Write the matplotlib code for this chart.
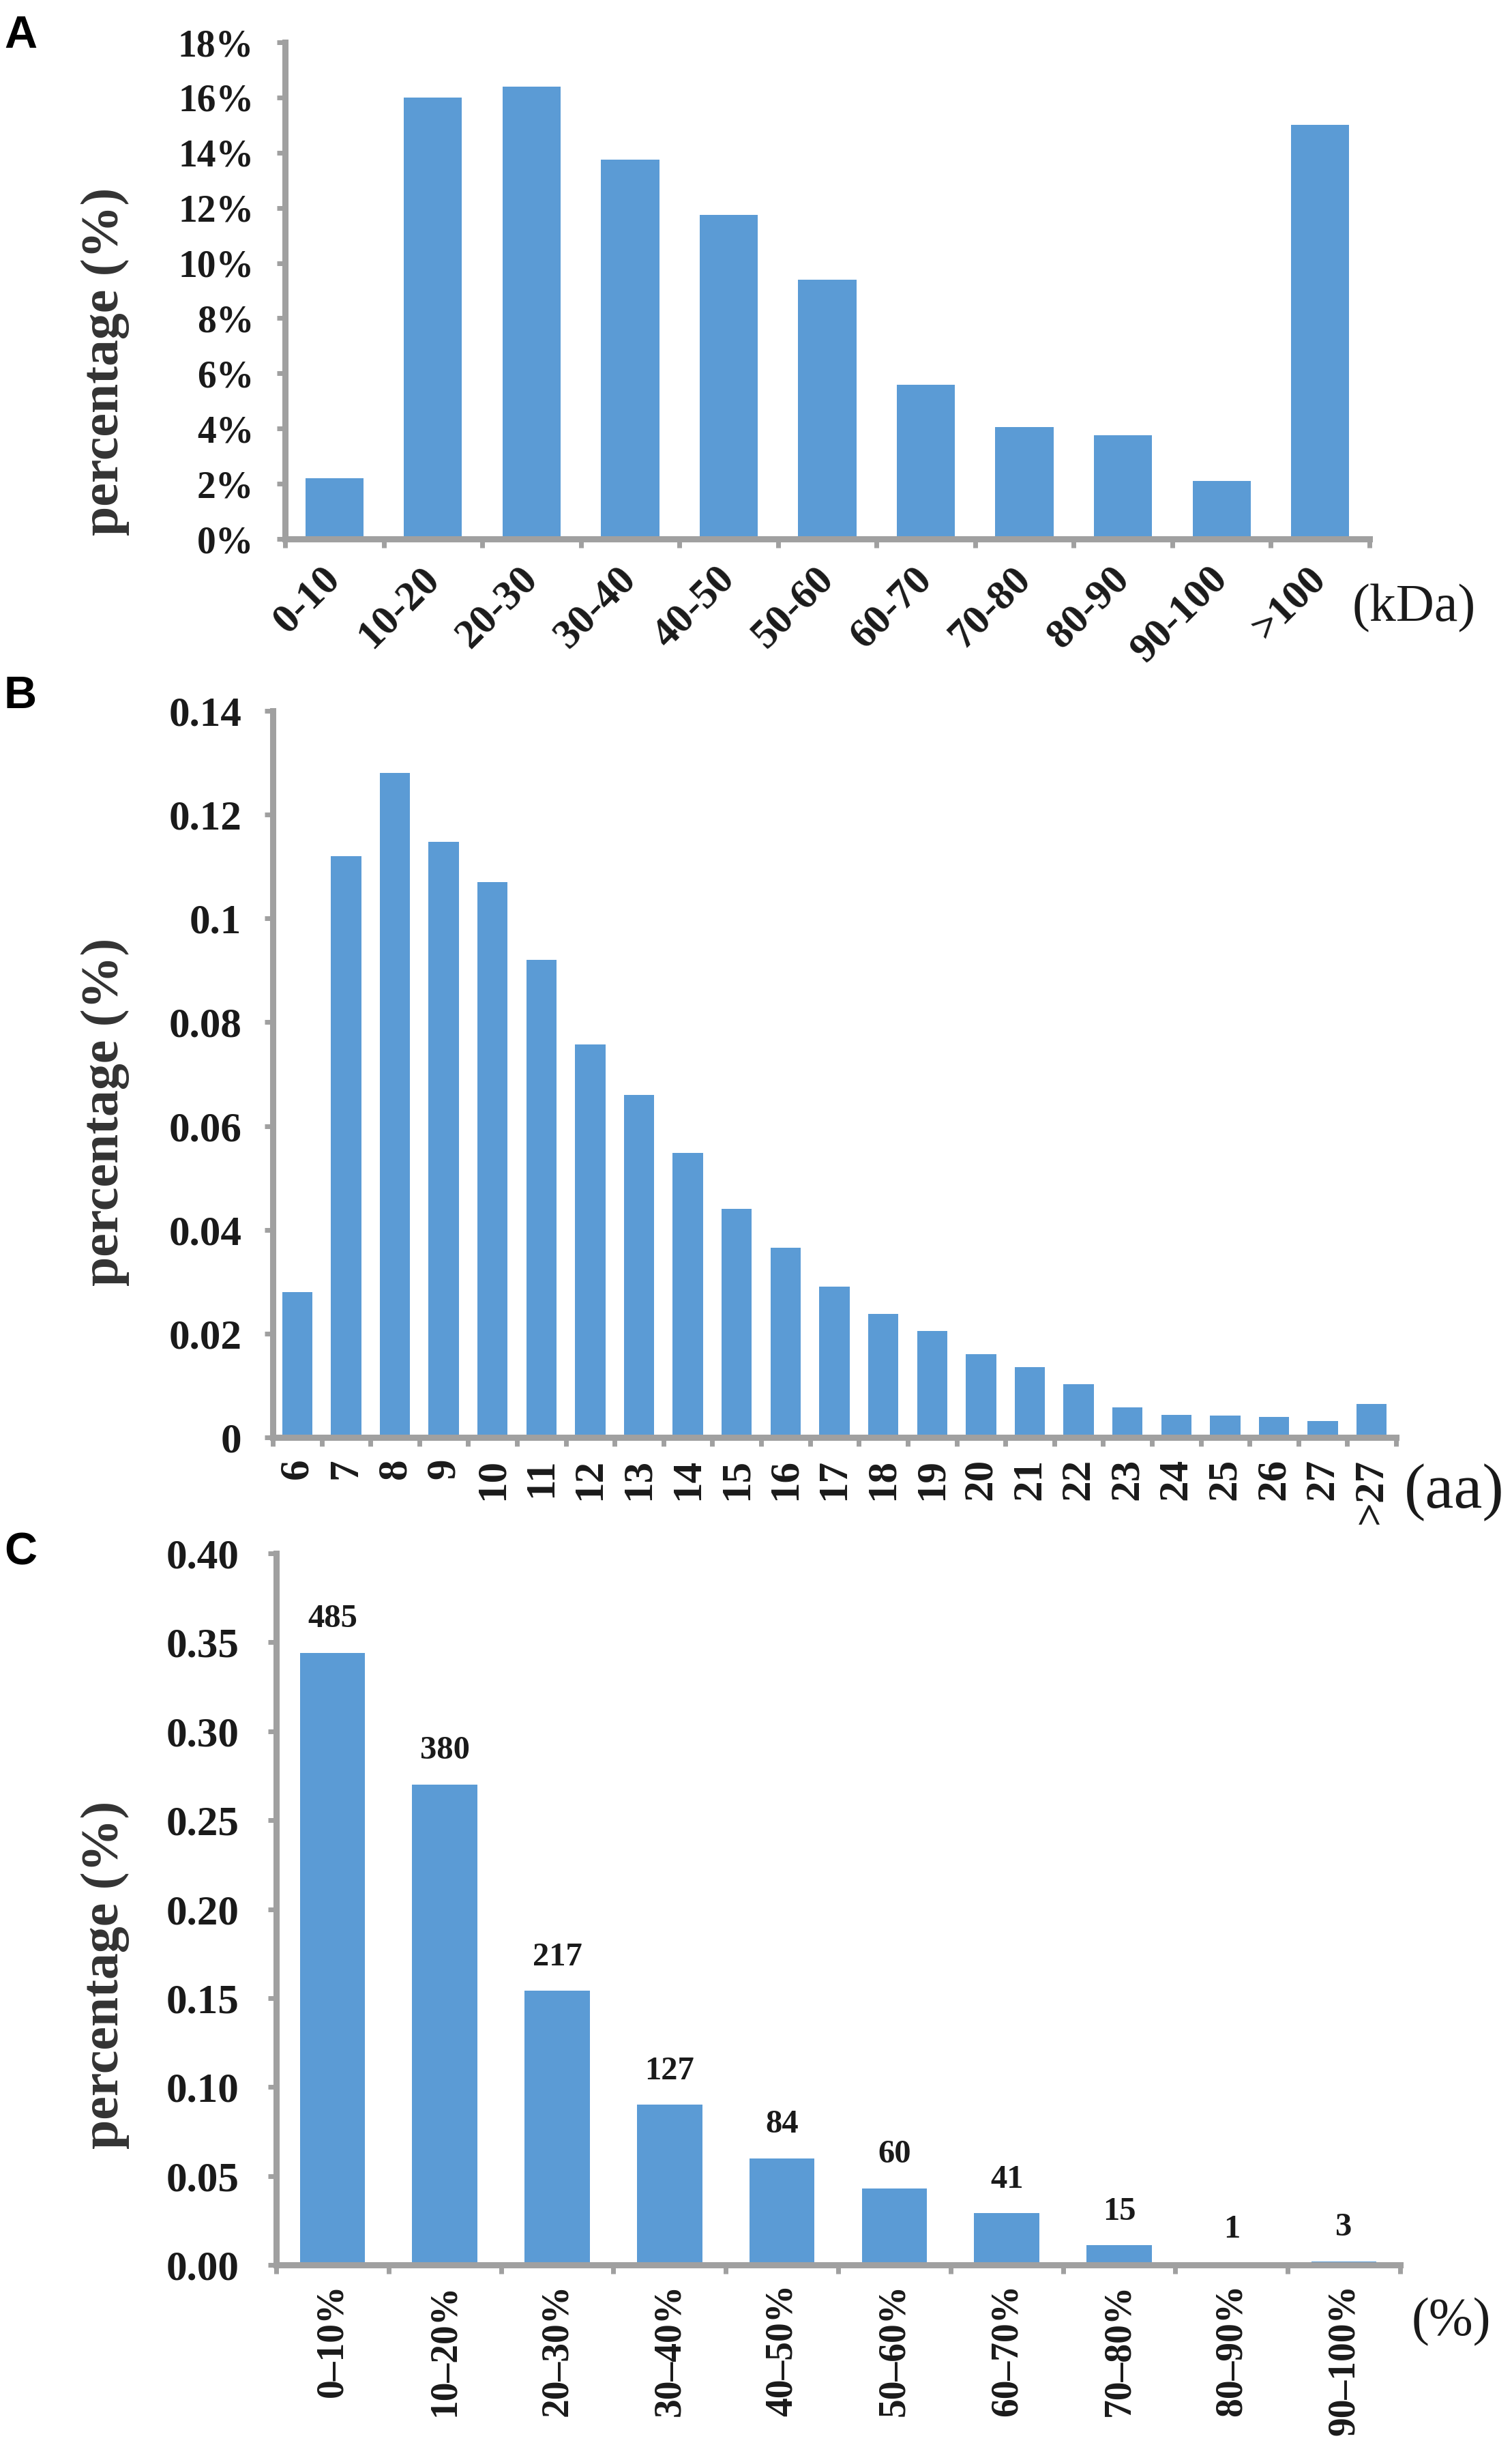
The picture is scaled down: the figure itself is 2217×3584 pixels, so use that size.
import matplotlib
matplotlib.use("Agg")
import matplotlib.pyplot as plt
import numpy as np
from matplotlib.ticker import FixedLocator

# ---------------- data ----------------
a_cats = ["0-10", "10-20", "20-30", "30-40", "40-50", "50-60", "60-70",
          "70-80", "80-90", "90-100", ">100"]
a_vals = [2.2, 16.0, 16.4, 13.75, 11.75, 9.4, 5.6, 4.05, 3.75, 2.1, 15.0]
a_yticks = [0, 2, 4, 6, 8, 10, 12, 14, 16, 18]

b_cats = ["6", "7", "8", "9", "10", "11", "12", "13", "14", "15", "16", "17",
          "18", "19", "20", "21", "22", "23", "24", "25", "26", "27", ">27"]
b_vals = [0.028, 0.112, 0.128, 0.1147, 0.107, 0.092, 0.0757, 0.066, 0.0548,
          0.044, 0.0366, 0.029, 0.0238, 0.0205, 0.016, 0.0135, 0.0102, 0.0058,
          0.0044, 0.0042, 0.0040, 0.0031, 0.0065]
b_yticks = [0, 0.02, 0.04, 0.06, 0.08, 0.1, 0.12, 0.14]
b_ytick_labels = ["0", "0.02", "0.04", "0.06", "0.08", "0.1", "0.12", "0.14"]

c_cats = ["0–10%", "10–20%", "20–30%", "30–40%", "40–50%", "50–60%",
          "60–70%", "70–80%", "80–90%", "90–100%"]
c_vals = [0.344, 0.270, 0.154, 0.090, 0.060, 0.043, 0.029, 0.011, 0.0007, 0.002]
c_counts = [485, 380, 217, 127, 84, 60, 41, 15, 1, 3]
c_yticks = [0.0, 0.05, 0.10, 0.15, 0.20, 0.25, 0.30, 0.35, 0.40]

# ---------------- style ----------------
W, H = 2217, 3584
DPI = 100
BAR = "#5B9BD5"
GRAY = "#A0A0A0"
TXT = "#1a1a1a"
SERIF = ["Liberation Serif", "DejaVu Serif"]
SANS = ["Liberation Sans", "DejaVu Sans"]

fig = plt.figure(figsize=(W / DPI, H / DPI), dpi=DPI)
fig.patch.set_facecolor("white")


def px_axes(left, right, top, bottom):
    return fig.add_axes([left / W, 1 - bottom / H, (right - left) / W, (bottom - top) / H])


def style_axes(ax, n, ylim, yticks, ylabels, ypad, xpad, xfs, yfs):
    ax.set_xlim(-0.5, n - 0.5)
    ax.set_ylim(*ylim)
    for s in ["top", "right"]:
        ax.spines[s].set_visible(False)
    for s in ["left", "bottom"]:
        ax.spines[s].set_color(GRAY)
        ax.spines[s].set_linewidth(6.5)
    ax.set_yticks(yticks)
    ax.set_yticklabels(ylabels)
    ax.tick_params(axis="y", which="major", direction="out", length=9, width=5,
                   color=GRAY, pad=ypad, labelsize=yfs, labelcolor=TXT)
    ax.set_xticks(np.arange(n))
    ax.tick_params(axis="x", which="major", length=0, pad=xpad, labelsize=xfs,
                   labelcolor=TXT)
    ax.xaxis.set_minor_locator(FixedLocator(np.arange(n + 1) - 0.5))
    ax.tick_params(axis="x", which="minor", direction="out", length=9, width=5,
                   color=GRAY)
    for lab in ax.get_yticklabels():
        lab.set_fontfamily(SERIF)
        lab.set_fontweight("bold")
    ax.patch.set_alpha(0)


# ---------------- Panel A ----------------
axA = px_axes(418, 2008, 62, 790)
xA = np.arange(len(a_cats))
axA.bar(xA, a_vals, width=0.59, color=BAR, zorder=1)
style_axes(axA, len(a_cats), (0, 18), a_yticks, [f"{v}%" for v in a_yticks],
           ypad=24, xpad=36, xfs=44, yfs=40)
axA.set_xticklabels(a_cats, rotation=45, ha="right", va="center",
                    rotation_mode="anchor", fontfamily=SERIF, fontweight="bold")

# ---------------- Panel B ----------------
axB = px_axes(400, 2047, 1042, 2107)
xB = np.arange(len(b_cats))
axB.bar(xB, b_vals, width=0.62, color=BAR, zorder=1)
style_axes(axB, len(b_cats), (0, 0.14), b_yticks, b_ytick_labels,
           ypad=24, xpad=22, xfs=44, yfs=44)
axB.set_xticklabels(b_cats, rotation=90, ha="center", va="top",
                    fontfamily=SERIF, fontweight="bold")

# ---------------- Panel C ----------------
axC = px_axes(405, 2053, 2277, 3320)
xC = np.arange(len(c_cats))
axC.bar(xC, c_vals, width=0.58, color=BAR, zorder=1)
style_axes(axC, len(c_cats), (0, 0.40), c_yticks, [f"{v:.2f}" for v in c_yticks],
           ypad=30, xpad=20, xfs=40, yfs=44)
axC.set_xticklabels(c_cats, rotation=90, ha="center", va="top",
                    fontfamily=SERIF, fontweight="bold")
for xi, v, c in zip(xC, c_vals, c_counts):
    axC.annotate(str(c), xy=(xi, v), xytext=(0, 20), textcoords="offset points",
                 ha="center", va="bottom", fontsize=35, fontweight="bold",
                 fontfamily=SERIF, color=TXT)

# ---------------- labels ----------------
for yc in [530, 1630, 2895]:
    fig.text(154 / W, 1 - yc / H, "percentage (%)", rotation=90, ha="center",
             va="center", fontsize=56, fontweight="bold", fontfamily=SERIF,
             color="#333333")

fig.text(2073 / W, 1 - 892 / H, "(kDa)", ha="center", va="center", fontsize=56,
         fontfamily=SERIF, color=TXT)
fig.text(2132 / W, 1 - 2188 / H, "(aa)", ha="center", va="center", fontsize=68,
         fontfamily=SERIF, color=TXT)
fig.text(2128 / W, 1 - 3404 / H, "(%)", ha="center", va="center", fontsize=56,
         fontfamily=SERIF, color=TXT)

for letter, yt in [("A", 22), ("B", 990), ("C", 2246)]:
    fig.text(6 / W, 1 - yt / H, letter, ha="left", va="top", fontsize=48,
             fontweight="bold", fontfamily=SANS, color="black")

fig.savefig("out.png", dpi=DPI, facecolor="white")
